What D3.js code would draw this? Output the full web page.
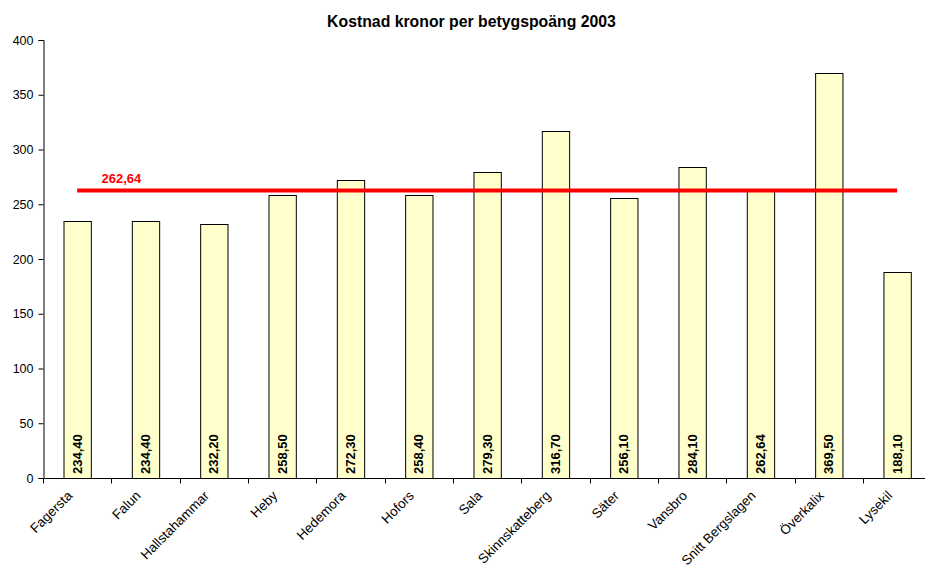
<!DOCTYPE html>
<html><head><meta charset="utf-8">
<script src="https://cdn.jsdelivr.net/npm/d3@7"></script>
<style>body{margin:0;background:#fff;overflow:hidden}svg{display:block;font-family:"Liberation Sans",Arial,sans-serif}</style>
</head><body><svg id="c" width="925" height="566"></svg>
<script>
const categories = ["Fagersta","Falun","Hallstahammar","Heby","Hedemora","Hofors","Sala","Skinnskatteberg","Säter","Vansbro","Snitt Bergslagen","Överkalix","Lysekil"];
const values = [234.40,234.40,232.20,258.50,272.30,258.40,279.30,316.70,256.10,284.10,262.64,369.50,188.10];
const labels = ["234,40","234,40","232,20","258,50","272,30","258,40","279,30","316,70","256,10","284,10","262,64","369,50","188,10"];
const average = 262.64;
const averageLabel = "262,64";
const yTicks = [0,50,100,150,200,250,300,350,400];
const title = "Kostnad kronor per betygspoäng 2003";

const svg = d3.select("#c");
const mLeft = 43, mTop = 40, mBottom = 478, mRight = 43 + 13*68.33;
const x = d3.scaleBand().domain(categories).range([mLeft, mRight]).paddingInner(0).paddingOuter(0);
const y = d3.scaleLinear().domain([0,400]).range([mBottom, mTop]);
const bw = x.bandwidth()*0.4;

const t = svg.append("text").attr("x",471.5).attr("y",27).attr("text-anchor","middle")
  .attr("font-size",14).attr("font-weight","bold").text(title);
const tw = t.node().getComputedTextLength();
t.attr("font-size", 14*289/tw);

// bars
svg.selectAll("rect.bar").data(values).join("rect").attr("class","bar")
  .attr("x",(d,i)=>x(categories[i])+x.bandwidth()/2-bw/2+0.5)
  .attr("y",d=>Math.round(y(d))+0.5)
  .attr("width",bw).attr("height",d=>mBottom-Math.round(y(d)))
  .attr("fill","#FFFFCC").attr("stroke","#000").attr("stroke-width",1);

// bar labels
svg.selectAll("text.bl").data(labels).join("text").attr("class","bl")
  .attr("transform",(d,i)=>`translate(${x(categories[i])+x.bandwidth()/2+4.5},${mBottom-4}) rotate(-90)`)
  .attr("font-size",13).attr("font-weight","bold").text(d=>d);

// y axis
const ya = svg.append("g").attr("transform",`translate(${mLeft+0.5},0)`)
  .call(d3.axisLeft(y).tickValues(yTicks).tickSize(5).tickPadding(5).tickFormat(d3.format("d")));
ya.select(".domain").attr("stroke","#000");
ya.selectAll(".tick line").attr("stroke","#000");
ya.selectAll("text").attr("font-size",12.5).attr("fill","#000").attr("font-family","Liberation Sans, Arial, sans-serif");

// x axis
const xa = svg.append("g").attr("transform",`translate(0,${mBottom+0.5})`);
xa.append("line").attr("x1",mLeft).attr("x2",mRight).attr("stroke","#000");
const xt = categories.map(c=>x(c)).concat([mRight]);
xa.selectAll("line.t").data(xt).join("line").attr("class","t")
  .attr("x1",d=>Math.round(d)+0.5).attr("x2",d=>Math.round(d)+0.5).attr("y1",0).attr("y2",5).attr("stroke","#000");
xa.selectAll("text").data(categories).join("text")
  .attr("transform",d=>`translate(${x(d)+x.bandwidth()/2-4},${18}) rotate(-45)`)
  .attr("text-anchor","end").attr("font-size",13.4).attr("fill","#000").text(d=>d);

// average line
svg.append("line").attr("x1",x(categories[0])+x.bandwidth()/2).attr("x2",x(categories[12])+x.bandwidth()/2)
  .attr("y1",y(average)).attr("y2",y(average)).attr("stroke","#FF0000").attr("stroke-width",4);
svg.append("text").attr("x",101.5).attr("y",182.5).attr("fill","#FF0000")
  .attr("font-size",13).attr("font-weight","bold").text(averageLabel);
</script></body></html>
